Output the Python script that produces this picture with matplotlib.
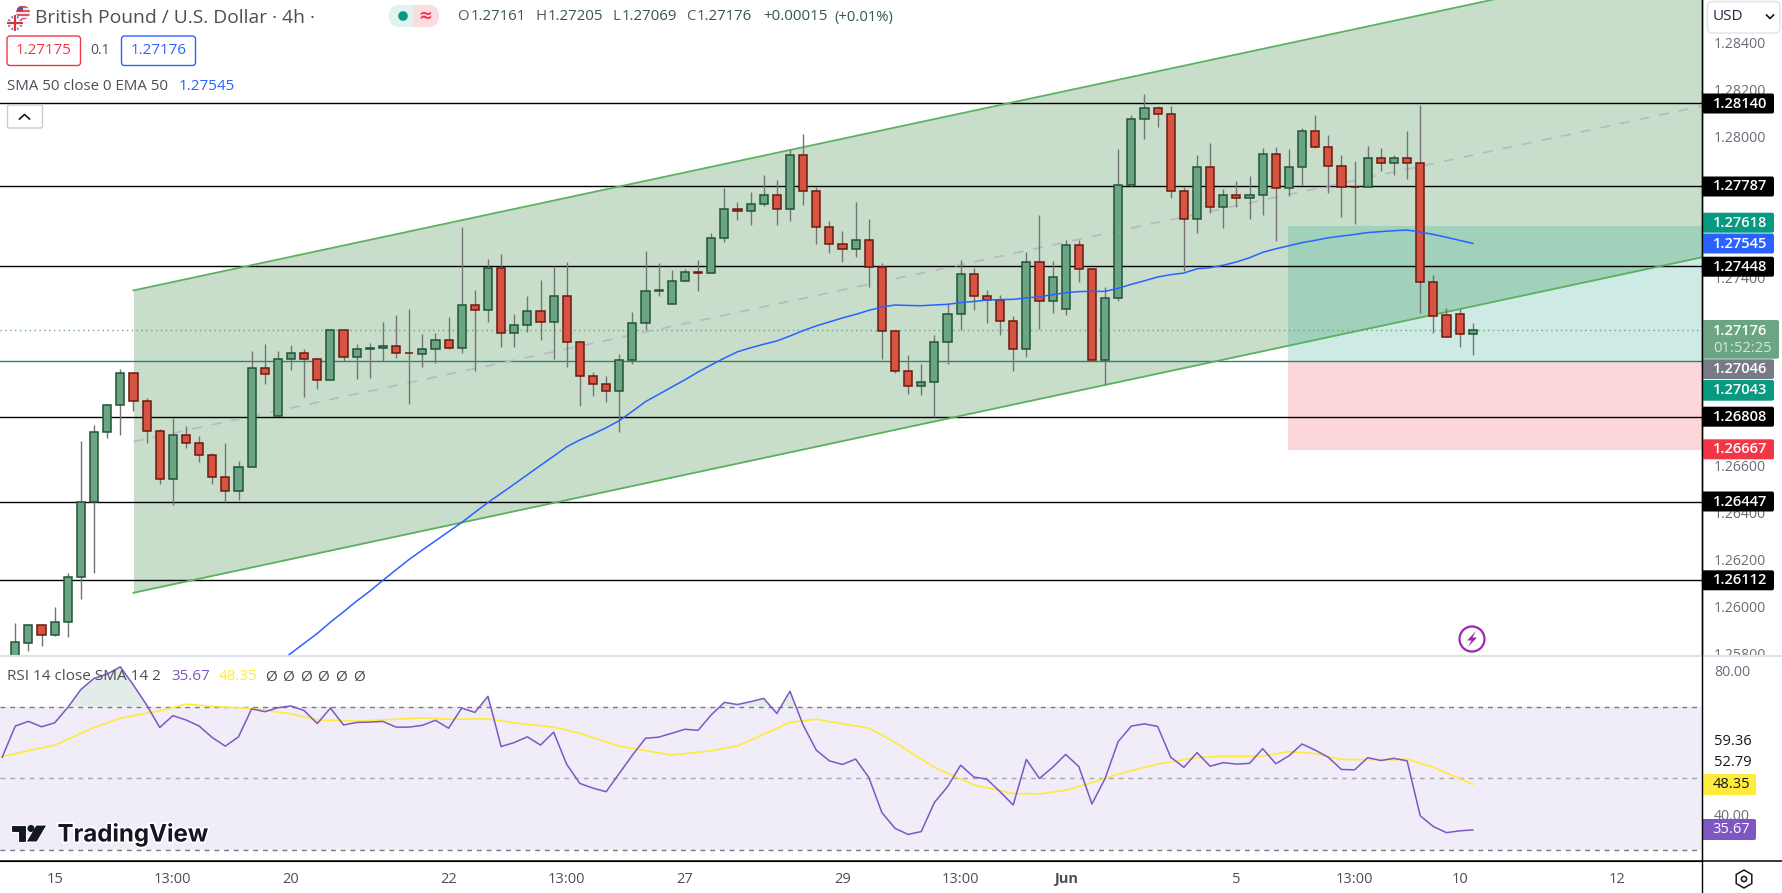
from matplotlib import pyplot as plt
from matplotlib.patches import Circle, FancyBboxPatch, Polygon, Rectangle, RegularPolygon
import matplotlib.patheffects as pe
import numpy as np

W, H = 1783, 893
FONT = 'Open Sans'

# candles, prices times 1e5
opens = [125758, 125846, 125920, 125880, 125933, 126124, 126447, 126741, 126856, 126992,
         126873, 126745, 126545, 126728, 126694, 126647, 126550, 126490, 126596, 127013,
         126812, 127052, 127077, 127052, 126962, 127175, 127060, 127094, 127098, 127107,
         127078, 127073, 127094, 127132, 127098, 127285, 127263, 127439, 127166, 127200,
         127256, 127209, 127320, 127124, 126983, 126945, 126918, 127047, 127205, 127341,
         127286, 127384, 127422, 127418, 127566, 127690, 127681, 127711, 127749, 127690,
         127920, 127766, 127613, 127541, 127520, 127558, 127443, 127171, 127001, 126937,
         126954, 127124, 127243, 127413, 127320, 127303, 127213, 127094, 127464, 127298,
         127264, 127537, 127435, 127047, 127311, 127792, 128073, 128119, 128094, 127766,
         127647, 127868, 127698, 127752, 127737, 127749, 127924, 127779, 127868, 128022,
         127954, 127873, 127785, 127783, 127907, 127885, 127907, 127885, 127379, 127239,
         127243, 127161]
highs = [125929, 125924, 125925, 125998, 126141, 126703, 126772, 126864, 127010, 127000,
         126887, 126754, 126801, 126768, 126725, 126652, 126698, 126618, 127087, 127117,
         127087, 127112, 127094, 127056, 127183, 127180, 127115, 127120, 127210, 127240,
         127268, 127159, 127162, 127232, 127613, 127346, 127478, 127502, 127244, 127321,
         127389, 127449, 127466, 127130, 126996, 126981, 127073, 127252, 127511, 127462,
         127430, 127435, 127473, 127588, 127781, 127721, 127764, 127836, 127815, 127945,
         128009, 127786, 127640, 127598, 127721, 127647, 127462, 127175, 127069, 127032,
         127154, 127286, 127473, 127439, 127347, 127325, 127235, 127508, 127664, 127469,
         127558, 127558, 127439, 127358, 127945, 128090, 128180, 128128, 128128, 127783,
         127920, 127971, 127775, 127809, 127832, 127949, 127955, 127946, 128034, 128091,
         128006, 127920, 127895, 127959, 127949, 127920, 128022, 128134, 127409, 127269,
         127264, 127205]
lows = [125730, 125812, 125833, 125876, 125872, 126033, 126144, 126718, 126731, 126833,
        126697, 126523, 126433, 126676, 126616, 126523, 126447, 126455, 126596, 126948,
        126812, 127008, 126893, 126927, 126962, 127044, 126969, 126974, 127044, 127057,
        126863, 127020, 127037, 127094, 127078, 127003, 127212, 127105, 127105, 127169,
        127134, 127054, 127020, 126854, 126896, 126872, 126743, 127033, 127176, 127321,
        127286, 127384, 127344, 127418, 127552, 127644, 127625, 127705, 127625, 127642,
        127710, 127544, 127505, 127467, 127488, 127361, 127055, 126995, 126906, 126901,
        126808, 127033, 127176, 127262, 127208, 127155, 127004, 127063, 127179, 127247,
        127242, 127382, 127047, 126944, 127301, 127786, 127990, 128041, 127739, 127429,
        127591, 127676, 127612, 127701, 127650, 127667, 127557, 127748, 127795, 127949,
        127758, 127659, 127629, 127783, 127853, 127837, 127820, 127250, 127162, 127148,
        127106, 127069]
closes = [125848, 125920, 125880, 125933, 126124, 126447, 126741, 126856, 126992, 126873,
          126745, 126545, 126728, 126694, 126647, 126550, 126490, 126596, 127013, 126988,
          127052, 127077, 127052, 126962, 127175, 127060, 127094, 127098, 127107, 127077,
          127077, 127094, 127132, 127098, 127285, 127263, 127439, 127166, 127200, 127256,
          127209, 127320, 127124, 126983, 126945, 126918, 127047, 127205, 127341, 127345,
          127384, 127422, 127418, 127566, 127690, 127681, 127711, 127749, 127690, 127920,
          127766, 127613, 127541, 127520, 127558, 127443, 127171, 127001, 126937, 126954,
          127124, 127243, 127413, 127320, 127303, 127213, 127094, 127464, 127298, 127401,
          127537, 127435, 127047, 127311, 127792, 128073, 128119, 128094, 127766, 127647,
          127868, 127698, 127752, 127737, 127749, 127924, 127779, 127868, 128022, 127954,
          127873, 127783, 127783, 127907, 127885, 127907, 127885, 127379, 127237, 127148,
          127161, 127176]

# EMA 50 from bar 20 on (the earlier part is below the pane)
ema_start = 20
ema = [125761, 125802, 125844, 125886, 125934, 125978, 126024, 126066, 126112, 126157,
       126201, 126241, 126280, 126319, 126358, 126401, 126443, 126482, 126521, 126561,
       126601, 126640, 126680, 126709, 126734, 126761, 126791, 126831, 126872, 126903,
       126934, 126965, 126998, 127028, 127057, 127084, 127101, 127116, 127130, 127151,
       127174, 127194, 127211, 127228, 127243, 127260, 127274, 127283, 127281, 127280,
       127283, 127286, 127293, 127298, 127304, 127306, 127307, 127313, 127318, 127327,
       127335, 127340, 127341, 127341, 127354, 127371, 127386, 127402, 127412, 127419,
       127437, 127442, 127452, 127466, 127484, 127507, 127522, 127535, 127548, 127558,
       127569, 127576, 127583, 127591, 127595, 127599, 127602, 127593, 127583, 127571,
       127558, 127545]

# RSI from bar -1
rsi = [55.9, 64.6, 65.9, 64.4, 65.5, 69.8, 74.8, 77.9, 79.1, 81.1, 76.0, 70.5, 64.2, 67.5,
       66.3, 64.6, 61.4, 59.0, 61.6, 69.4, 68.6, 69.7, 70.2, 68.9, 65.3, 69.6, 64.9, 65.6,
       65.7, 65.9, 64.3, 64.3, 64.8, 66.2, 64.0, 69.6, 68.4, 72.9, 58.9, 60.0, 61.6, 59.3,
       62.9, 53.9, 48.6, 47.3, 46.3, 51.4, 56.5, 61.2, 61.5, 62.6, 63.7, 63.4, 67.7, 71.2,
       70.6, 71.4, 72.3, 68.1, 74.3, 64.9, 57.9, 54.9, 53.9, 55.4, 50.3, 40.5, 36.1, 34.4,
       35.2, 43.3, 47.7, 53.7, 50.4, 49.8, 46.3, 42.6, 55.3, 50.0, 53.1, 56.7, 53.3, 42.9,
       50.0, 60.3, 64.6, 65.2, 64.5, 55.9, 53.1, 57.2, 53.4, 54.4, 54.0, 54.2, 58.3, 54.1,
       56.3, 59.6, 57.9, 55.9, 52.5, 52.4, 55.8, 55.0, 55.6, 54.9, 39.6, 36.6, 34.9, 35.4,
       35.67]
rsi_sma_bars = [-1, 1, 3, 6, 8, 10, 11, 13, 15, 18, 21, 23, 26, 28, 31, 33, 36, 38, 41, 43, 46,
                50, 53, 55, 59, 61, 65, 66, 67, 70, 73, 76, 78, 80, 82, 84, 87, 90, 92, 95, 97,
                99, 101, 105, 106, 108, 111]
rsi_sma = [56.1, 57.7, 59.3, 64.2, 66.8, 68.2, 68.8, 70.7, 70.1, 69.5, 68.0, 66.3, 66.0, 66.3,
           66.9, 66.5, 66.6, 65.5, 64.3, 62.6, 59.0, 56.5, 57.7, 59.1, 65.6, 66.5, 64.0, 62.1,
           60.0, 53.1, 48.2, 45.8, 45.7, 46.7, 48.8, 51.2, 54.0, 55.8, 56.2, 56.2, 57.5, 56.9,
           55.3, 55.2, 55.4, 53.1, 48.35]

levels = [1.28140, 1.27787, 1.27448, 1.26808, 1.26447, 1.26112]
entry, target, stop = 1.27046, 1.27618, 1.26667
channel_bars = [9, 128.46]
channel_lower = [1.26059, 1.27486]
channel_upper = [1.27345, 1.28772]
# 1.26800, 1.27000, 1.27600, 1.27800 sit fully behind the tags
price_ticks = [1.25800, 1.26000, 1.26200, 1.26400, 1.26600, 1.27200, 1.27400, 1.28000, 1.28200, 1.28400]
time_bars = [3, 12, 21, 33, 42, 51, 63, 72, 80, 93, 102, 110, 122]
time_labels = ['15', '13:00', '20', '22', '13:00', '27', '29', '13:00', 'Jun', '5', '13:00', '10', '12']

GREEN, GREEN_EDGE = '#6ba583', '#225437'
RED, RED_EDGE = '#d75442', '#6b1a0f'
TEAL, SHORT_RED = '#089981', '#f23645'
BLUE, PURPLE, YELLOW = '#2962ff', '#7e57c2', '#ffeb3b'
TICK = '#6a6d78'
AXIS_X = 1702


def pane(fig, top, bottom):
    return fig.add_axes([0, 1 - bottom / H, AXIS_X / W, (bottom - top) / H])


def box(ui, x0, y0, x1, y1, fc='white', ec='none', r=0.0, lw=1.0):
    patch = FancyBboxPatch((x0, y0), x1 - x0, y1 - y0, boxstyle=f'round,pad=0,rounding_size={r}',
                           fc=fc, ec=ec, lw=lw)
    ui.add_patch(patch)
    return patch


def draw_candles(ax):
    o, h, l, c = [np.array(v) / 1e5 for v in (opens, highs, lows, closes)]
    bars = np.arange(len(o))
    up = c >= o
    ax.vlines(bars, l, h, color='#737375', lw=1.0, zorder=3)
    ax.bar(bars[up], (c - o)[up], 0.62, o[up], fc=GREEN, ec=GREEN_EDGE, lw=1.1, zorder=4)
    ax.bar(bars[~up], (o - c)[~up], 0.62, c[~up], fc=RED, ec=RED_EDGE, lw=1.1, zorder=4)


def draw_main(ax):
    ax.set_xlim(-1.165, 128.46)
    ax.set_ylim(1.257901, 1.285802)

    # channel
    ax.fill_between(channel_bars, channel_lower, channel_upper, color='#c8deca', lw=0, zorder=1)
    ax.plot(channel_bars, channel_lower, c='#5cb160', lw=1.3, zorder=2.2)
    ax.plot(channel_bars, channel_upper, c='#5cb160', lw=1.3, zorder=2.2)
    middle = (np.array(channel_lower) + np.array(channel_upper)) / 2
    ax.plot(channel_bars, middle, c='#b9b6c6', lw=1.2, ls=(0, (6, 6)), zorder=2.2)

    # long position box
    ax.fill_between([96.9, 128.46], entry, target, color=TEAL, alpha=0.2, lw=0, zorder=1.5)
    ax.fill_between([96.9, 128.46], stop, entry, color=SHORT_RED, alpha=0.2, lw=0, zorder=1.5)

    for level in levels:
        ax.axhline(level, c='black', lw=1.0, zorder=2)
    ax.axhline(1.27043, c='#26876b', lw=1.0, zorder=2)
    ax.axhline(closes[-1] / 1e5, c=GREEN, lw=1.0, ls=(0, (1, 2.5)), zorder=2)

    draw_candles(ax)
    ax.plot(np.arange(len(ema)) + ema_start, np.array(ema) / 1e5, c=BLUE, lw=1.1, zorder=5)

    ax.set_xticks([])
    ax.yaxis.tick_right()
    ax.set_yticks(price_ticks, [f'{p:.5f}' for p in price_ticks], family=FONT)
    ax.tick_params(axis='y', length=0, pad=8.6, labelsize=10.2, labelcolor=TICK)
    for side in ('top', 'left', 'bottom'):
        ax.spines[side].set_visible(False)
    ax.spines['right'].set_linewidth(1.0)


def draw_rsi(ax):
    ax.set_xlim(-1.165, 128.46)
    ax.set_ylim(27.0, 83.84)
    bars = np.arange(len(rsi)) - 1
    values = np.array(rsi)

    ax.axhspan(30, 70, fc='#f0ecf8', lw=0, zorder=1)
    for value, alpha in ((70, 1), (50, 0.6), (30, 1)):
        ax.axhline(value, c='#787b86', lw=1.0, ls=(0, (3.5, 3.5)), alpha=alpha, zorder=2)
    ax.fill_between(bars, 70, values, where=values > 70, interpolate=True, color='#e2ece8', lw=0, zorder=1.5)

    ax.plot(rsi_sma_bars, rsi_sma, c=YELLOW, lw=1.2, zorder=3)
    ax.plot(bars, values, c=PURPLE, lw=1.1, zorder=4)

    ax.set_xticks(time_bars, time_labels, family=FONT)
    ax.tick_params(axis='x', length=0, pad=8, labelsize=10.5, labelcolor='#4a4e58')
    ax.get_xticklabels()[time_labels.index('Jun')].set_fontweight('bold')
    ax.yaxis.tick_right()
    ax.set_yticks([40, 80], ['40.00', '80.00'], family=FONT)
    ax.tick_params(axis='y', length=0, pad=8.6, labelsize=10.2, labelcolor=TICK)
    for side in ('top', 'left'):
        ax.spines[side].set_visible(False)

    # hides what the price scale draws below the main pane
    ax.add_patch(Rectangle((1, 0), (W - AXIS_X) / AXIS_X, 1, transform=ax.transAxes,
                           fc='white', ec='none', clip_on=False, zorder=-1))


def price_tag(ui, y0, y1, text, bg, fg='white', x1=1774):
    box(ui, AXIS_X, y0, x1, y1, fc=bg, r=2)
    ui.text(1740.5, (y0 + y1) / 2, text, color=fg, ha='center', va='center', fontsize=10.6,
            family=FONT, weight='semibold')


def draw_scale_tags(ui):
    price_tag(ui, 93.5, 113.5, '1.28140', 'black')
    price_tag(ui, 176.5, 196.5, '1.27787', 'black')
    price_tag(ui, 212.7, 232.7, '1.27618', TEAL)
    price_tag(ui, 233.5, 253.5, '1.27545', BLUE)
    price_tag(ui, 256.7, 276.7, '1.27448', 'black')
    box(ui, AXIS_X, 320, 1779, 358.7, fc=GREEN, r=2)
    ui.text(1740.5, 330.7, '1.27176', color='white', ha='center', va='center', fontsize=10.6,
            family=FONT, weight='semibold')
    ui.text(1743, 348.7, '01:52:25', color='#d5e6dc', ha='center', va='center', fontsize=10.6, family=FONT)
    price_tag(ui, 359.3, 379, '1.27046', '#787b86')
    price_tag(ui, 380, 400.7, '1.27043', TEAL)
    price_tag(ui, 406.7, 426.7, '1.26808', 'black')
    price_tag(ui, 439.3, 459.3, '1.26667', SHORT_RED)
    price_tag(ui, 491.5, 511.5, '1.26447', 'black')
    price_tag(ui, 570.3, 590.3, '1.26112', 'black')

    ui.text(1733, 741.7, '59.36', color='#131722', ha='center', va='center', fontsize=10.5, family=FONT)
    ui.text(1733, 762.7, '52.79', color='#131722', ha='center', va='center', fontsize=10.5, family=FONT)
    box(ui, AXIS_X, 774, 1756, 795, fc=YELLOW, r=2)
    ui.text(1731, 784.5, '48.35', color='#131722', ha='center', va='center', fontsize=10.5, family=FONT)
    box(ui, AXIS_X, 819, 1756, 840, fc=PURPLE, r=2)
    ui.text(1731, 829.5, '35.67', color='white', ha='center', va='center', fontsize=10.5, family=FONT)


def draw_flags(ui):
    us = Circle((23, 12.5), 7, fc='#e8e8ee', ec='none')
    ui.add_patch(us)
    for y in (7, 11, 15, 19):
        ui.plot([16, 30], [y, y], c='#e5363f', lw=1.2).pop().set_clip_path(us)
    ui.add_patch(Polygon([(17, 6), (23, 6), (23, 12), (17, 12)], fc='#3f5bb0', ec='none', clip_path=us))
    uk = Circle((15, 23), 8, fc='#3c5aa6', ec='white', lw=0.8)
    ui.add_patch(uk)
    for x0, y0, x1, y1, col, lw in ((8, 16, 22, 30, 'white', 2), (8, 30, 22, 16, 'white', 2),
                                    (15, 15, 15, 31, 'white', 3.2), (7, 23, 23, 23, 'white', 3.2),
                                    (15, 15, 15, 31, '#d8323f', 1.6), (7, 23, 23, 23, '#d8323f', 1.6)):
        ui.plot([x0, x1], [y0, y1], c=col, lw=lw).pop().set_clip_path(uk)


def draw_header(ui):
    draw_flags(ui)
    ui.text(35, 18, 'British Pound / U.S. Dollar · 4h ·', color='#4a4e58', va='center', fontsize=13.9, family=FONT)

    # market status pill
    box(ui, 389, 5, 439, 27, fc='#e0f3ee', r=11)
    pink = box(ui, 389, 5, 439, 27, fc='#fadde0', r=11)
    pink.set_clip_path(Rectangle((414, 0), 40, 40, transform=ui.transData))
    ui.add_patch(Circle((403, 16), 4.8, fc=TEAL, ec='none'))
    ui.text(425, 16, '≈', color=SHORT_RED, ha='center', va='center', fontsize=12, family='DejaVu Sans', weight='bold')

    dark = '#34574a'
    for x, letter, value in ((457.5, 'O', '1.27161'), (535.5, 'H', '1.27205'),
                             (612.5, 'L', '1.27069'), (686, 'C', '1.27176')):
        t = ui.text(x, 17, letter, color='#555a60', va='center', fontsize=10.8, family=FONT)
        ui.annotate(value, xy=(1, 0.5), xycoords=t, xytext=(1, 0), textcoords='offset points',
                    color=dark, va='center', fontsize=10.8, family=FONT)
    ui.text(762.8, 17, '+0.00015', color=dark, va='center', fontsize=10.9, family=FONT)
    ui.text(834.5, 17, '(+0.01%)', color=dark, va='center', fontsize=10.6, family=FONT)

    # sell / buy buttons
    box(ui, 7, 36, 80.5, 65.5, ec=SHORT_RED, r=3, lw=1)
    ui.text(43.7, 51, '1.27175', color=SHORT_RED, ha='center', va='center', fontsize=10.9, family=FONT)
    ui.text(100.5, 51, '0.1', color='#4a4e58', ha='center', va='center', fontsize=10, family=FONT)
    box(ui, 121.5, 36, 195.5, 65.5, ec=BLUE, r=3, lw=1)
    ui.text(158.5, 51, '1.27176', color=BLUE, ha='center', va='center', fontsize=10.9, family=FONT)

    ui.text(7, 86.5, 'SMA 50 close 0 EMA 50', color='#4a4e58', va='center', fontsize=10.8, family=FONT)
    ui.text(179, 86.5, '1.27545', color=BLUE, va='center', fontsize=11, family=FONT)

    # collapse button
    box(ui, 7.5, 105, 42.5, 128, ec='#c9ccd4', r=2)
    ui.plot([19.5, 24.5, 29.5], [119, 114.5, 119], c='#131722', lw=1.2)

    # currency
    box(ui, 1707.5, 1.5, 1780, 33, ec='#e0e3eb', r=5)
    ui.text(1713, 17, 'USD', color='#1f2a44', va='center', fontsize=11, family=FONT)
    ui.plot([1766.5, 1770, 1773.5], [15, 18.5, 15], c='#131722', lw=1.2)


def draw_rsi_legend(ui):
    ui.text(7, 677, 'RSI 14 close SMA 14 2', color='#4a4e58', va='center', fontsize=11, family=FONT)
    ui.text(171, 677, '35.67', color=PURPLE, va='center', fontsize=11, family=FONT)
    ui.text(218.5, 677, '48.35', color=YELLOW, va='center', fontsize=11, family=FONT)
    for x in (270.7, 288, 306, 323.5, 341, 358.7):
        ui.text(x, 677, 'Ø', color='#4a4e58', ha='center', va='center', fontsize=11, family=FONT)


def draw_logo(ui):
    stroke = [pe.withStroke(linewidth=2.5, foreground='white')]
    dark = '#131722'
    mark = Polygon([(11, 825), (26, 825), (26, 842), (18.5, 842), (18.5, 832), (11, 832)], fc=dark, ec='white', lw=0.8)
    slash = Polygon([(36, 825), (47, 825), (37, 842), (26, 842)], fc=dark, ec='white', lw=0.8)
    ui.add_patch(mark)
    ui.add_patch(slash)
    ui.add_patch(Circle((31, 828.5), 3.5, fc=dark, ec='none'))
    ui.text(57.5, 835, 'TradingView', color=dark, va='center', fontsize=17.3, family='Inter', weight='bold', path_effects=stroke)


def draw_icons(ui):
    # replay / lightning badge
    ui.add_patch(Circle((1472, 639), 12.5, fc='white', ec='#9c27b0', lw=1.6))
    ui.add_patch(Polygon([(1476, 631), (1467, 640.5), (1471.5, 640.5), (1468, 647), (1477, 637.5), (1472.5, 637.5)], fc='#9c27b0', ec='none'))
    # settings
    ui.add_patch(RegularPolygon((1744, 879), 6, radius=9, fc='white', ec='#131722', lw=1.1))
    ui.add_patch(Circle((1744, 879), 2.6, fc='white', ec='#131722', lw=1.1))


def draw():
    fig = plt.figure(figsize=(W / 100, H / 100), dpi=100)

    ax = pane(fig, 0, 656)
    ax.set_zorder(1)
    draw_main(ax)

    ax_rsi = pane(fig, 657, 861)
    ax_rsi.set_zorder(2)
    draw_rsi(ax_rsi)

    # overlay in image pixels for the chrome around the chart
    ui = fig.add_axes([0, 0, 1, 1])
    ui.set_zorder(3)
    ui.set_xlim(0, W)
    ui.set_ylim(H, 0)
    ui.axis('off')
    ui.patch.set_alpha(0)

    ui.plot([0, W], [656.3, 656.3], c='#e0e3eb', lw=1.5)
    ui.plot([0, W], [861.3, 861.3], c='black', lw=1.1)
    ui.plot([AXIS_X + 0.3, AXIS_X + 0.3], [0, H], c='black', lw=1.0)

    draw_scale_tags(ui)
    draw_header(ui)
    draw_rsi_legend(ui)
    draw_logo(ui)
    draw_icons(ui)

    fig.savefig('out.png', dpi=100)


draw()
